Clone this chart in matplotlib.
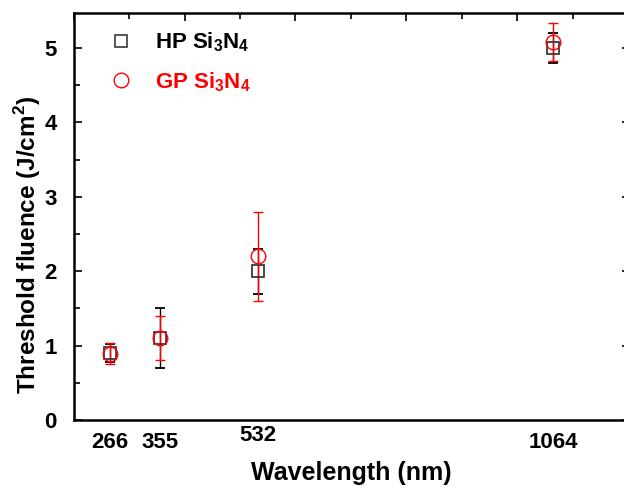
import numpy as np
import matplotlib.pyplot as plt
from matplotlib.lines import Line2D
from matplotlib.ticker import MultipleLocator, NullLocator

plt.rcParams['font.family'] = ['Liberation Sans', 'DejaVu Sans']
plt.rcParams['font.weight'] = 'bold'
plt.rcParams['mathtext.fontset'] = 'custom'
plt.rcParams['mathtext.rm'] = 'Liberation Sans:bold'
plt.rcParams['mathtext.bf'] = 'Liberation Sans:bold'

wavelength = [266, 355, 532, 1064]
hp_fluence = [0.9, 1.1, 2.0, 5.0]
hp_err = [0.125, 0.4, 0.3, 0.2]
gp_fluence = [0.89, 1.1, 2.2, 5.08]
gp_err = [0.14, 0.3, 0.6, 0.26]

fig = plt.figure(figsize=(6.24, 4.88), dpi=100)
ax = fig.add_axes([73.5 / 624, 68 / 488, 555 / 624, 407 / 488])

ax.errorbar(wavelength, hp_fluence, yerr=hp_err, fmt='s', ms=9,
            mfc='none', mec='#3a3a3a', mew=1.3, ecolor='black',
            elinewidth=1, capsize=3.5, capthick=1)
ax.errorbar(wavelength, gp_fluence, yerr=gp_err, fmt='o', ms=10.5,
            mfc='none', mec='red', mew=1.0, ecolor='red',
            elinewidth=1, capsize=3.5, capthick=1)

ax.set_xlim(200, 1200)
ax.set_ylim(0, 5.47)

# bottom axis: only the laser wavelengths, no tick marks
ax.set_xticks(wavelength)
ax.set_xticklabels([str(w) for w in wavelength], fontsize=16, fontweight='bold')
ax.tick_params(axis='x', which='both', bottom=False, top=False, pad=5)
ax.get_xticklabels()[2].set_y(0.016)

ax.yaxis.set_major_locator(MultipleLocator(1))
ax.yaxis.set_minor_locator(MultipleLocator(0.5))
ax.tick_params(axis='y', which='major', direction='in', length=6, width=1.2,
               labelsize=16, left=True, right=False, pad=12)
ax.tick_params(axis='y', which='minor', direction='in', length=4, width=1.2,
               left=True, right=False)
for lab in ax.get_yticklabels():
    lab.set_fontweight('bold')

# top and right frame ticks
top = ax.secondary_xaxis('top')
top.xaxis.set_major_locator(MultipleLocator(200))
top.xaxis.set_minor_locator(MultipleLocator(100))
top.tick_params(which='major', direction='in', length=6, width=1.2, labeltop=False)
top.tick_params(which='minor', direction='in', length=4, width=1.2)
top.spines['top'].set_visible(False)

right = ax.secondary_yaxis('right')
right.yaxis.set_major_locator(MultipleLocator(1))
right.yaxis.set_minor_locator(NullLocator())
right.tick_params(which='major', direction='in', length=5, width=1.2, labelright=False)
right.spines['right'].set_visible(False)

for s in ax.spines.values():
    s.set_linewidth(1.8)

ax.set_xlabel('Wavelength (nm)', fontsize=18, fontweight='bold', labelpad=6)
ax.set_ylabel(r'Threshold fluence (J/cm$^2$)', fontsize=17.5, fontweight='bold')
ax.yaxis.set_label_coords(-0.055, 0.43)

handles = [
    Line2D([], [], ls='none', marker='s', ms=9, mfc='none', mec='#3a3a3a', mew=1.2),
    Line2D([], [], ls='none', marker='o', ms=10.5, mfc='none', mec='red', mew=1.0),
]
leg = ax.legend(handles, [r'HP Si$_3$N$_4$', r'GP Si$_3$N$_4$'],
                loc='upper left', bbox_to_anchor=(0.046, 0.978), frameon=False,
                fontsize=16, handletextpad=0.9, labelspacing=0.7,
                borderaxespad=0.0, handlelength=1.2)
for txt, col in zip(leg.get_texts(), ['black', 'red']):
    txt.set_color(col)
    txt.set_fontweight('bold')

fig.savefig('out.png', dpi=100)
